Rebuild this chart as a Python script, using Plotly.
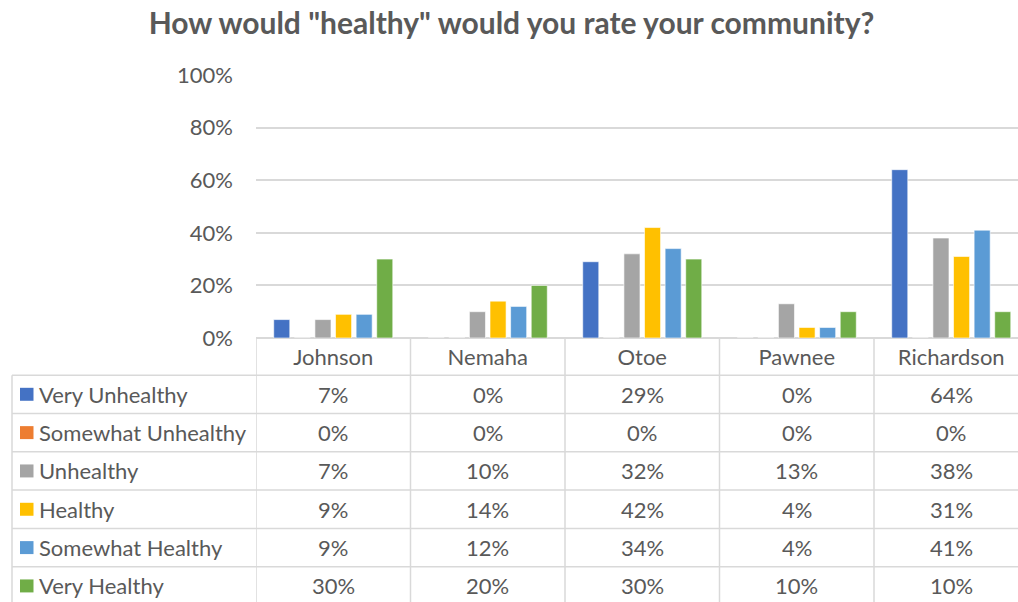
import plotly.graph_objects as go

# Survey responses by county (share of respondents)
counties = ["Johnson", "Nemaha", "Otoe", "Pawnee", "Richardson"]
ratings = ["Very Unhealthy", "Somewhat Unhealthy", "Unhealthy",
           "Healthy", "Somewhat Healthy", "Very Healthy"]
very_unhealthy = [0.07, 0.00, 0.29, 0.00, 0.64]
somewhat_unhealthy = [0.00, 0.00, 0.00, 0.00, 0.00]
unhealthy = [0.07, 0.10, 0.32, 0.13, 0.38]
healthy = [0.09, 0.14, 0.42, 0.04, 0.31]
somewhat_healthy = [0.09, 0.12, 0.34, 0.04, 0.41]
very_healthy = [0.30, 0.20, 0.30, 0.10, 0.10]
y_ticks = [0, 0.2, 0.4, 0.6, 0.8, 1.0]

series = [very_unhealthy, somewhat_unhealthy, unhealthy,
          healthy, somewhat_healthy, very_healthy]
colors = ["#4472C4", "#ED7D31", "#A5A5A5", "#FFC000", "#5B9BD5", "#70AD47"]

W, H = 1018, 602
PLOT_L, PLOT_T, PLOT_B = 256, 75, 338.5
PLOT_H = PLOT_B - PLOT_T
PLOT_W = W - PLOT_L
TEXT = "#595959"
GRID = "#D9D9D9"
FONT = "Lato"
FS = 22

def py(p):
    """pixel row -> paper y"""
    return (PLOT_B - p) / PLOT_H

def px(p):
    """pixel column -> paper x"""
    return (p - PLOT_L) / PLOT_W

fig = go.Figure()
for name, vals, col in zip(ratings, series, colors):
    fig.add_trace(go.Bar(
        x=counties, y=vals, name=name,
        marker=dict(color=col, line=dict(color="white", width=0.6)),
        hoverinfo="x+y+name",
    ))

# per-category pixel width: last column runs past the right edge
cat_px = 154.5
x_end = -0.5 + PLOT_W / cat_px

shapes = []
annotations = []

# data table geometry
header_bottom = 375.7
row_h = 38.4
table_left = 12
n_rows = len(ratings)

# horizontal rules
for i in range(n_rows):
    yy = py(header_bottom + i * row_h)
    shapes.append(dict(type="line", xref="paper", yref="paper",
                       x0=px(table_left), x1=1, y0=yy, y1=yy,
                       line=dict(color=GRID, width=1.5)))
# left border of the legend column
shapes.append(dict(type="line", xref="paper", yref="paper",
                   x0=px(table_left), x1=px(table_left),
                   y0=py(header_bottom), y1=py(H + 2),
                   line=dict(color=GRID, width=1.5)))
# column separators
for k in range(len(counties)):
    shapes.append(dict(type="line", xref="x", yref="paper",
                       x0=k - 0.5, x1=k - 0.5, y0=0, y1=py(H + 2),
                       line=dict(color=GRID, width=1.5)))

# legend keys, series names and values
for i, (name, vals, col) in enumerate(zip(ratings, series, colors)):
    cy = header_bottom + (i + 0.5) * row_h
    shapes.append(dict(type="rect", xref="paper", yref="paper",
                       x0=px(20), x1=px(33.5), y0=py(cy - 6.5), y1=py(cy + 6.5),
                       fillcolor=col, line=dict(width=0)))
    annotations.append(dict(xref="paper", yref="paper", x=px(37), y=py(cy),
                            text=name, showarrow=False, xanchor="left",
                            yanchor="middle",
                            font=dict(family=FONT, size=FS, color=TEXT)))
    for k, v in enumerate(vals):
        annotations.append(dict(xref="x", yref="paper", x=counties[k], y=py(cy),
                                text=f"{v:.0%}", showarrow=False,
                                xanchor="center", yanchor="middle",
                                font=dict(family=FONT, size=FS, color=TEXT)))

fig.update_layout(
    width=W, height=H,
    margin=dict(l=PLOT_L, r=0, t=PLOT_T, b=H - PLOT_B, autoexpand=False),
    paper_bgcolor="white", plot_bgcolor="white",
    barmode="group", bargap=0.2, bargroupgap=0.22,
    showlegend=False,
    title=dict(text='How would "healthy" would you rate your community?',
               x=511.5 / W, xanchor="center", y=1 - 23 / H, yanchor="middle",
               font=dict(family=FONT, size=30, color=TEXT, weight="bold")),
    xaxis=dict(range=[-0.5, x_end], showgrid=False, ticks="",
               showline=False, tickfont=dict(family=FONT, size=FS, color=TEXT),
               ticklabelstandoff=4),
    yaxis=dict(range=[0, 1], tickvals=y_ticks, tickformat=".0%",
               showgrid=True, gridcolor=GRID, gridwidth=1.5,
               zeroline=True, zerolinecolor=GRID, zerolinewidth=1.5,
               ticks="", ticklabelstandoff=22,
               tickfont=dict(family=FONT, size=FS, color=TEXT)),
    shapes=shapes, annotations=annotations,
)

fig.write_html("out.html")
